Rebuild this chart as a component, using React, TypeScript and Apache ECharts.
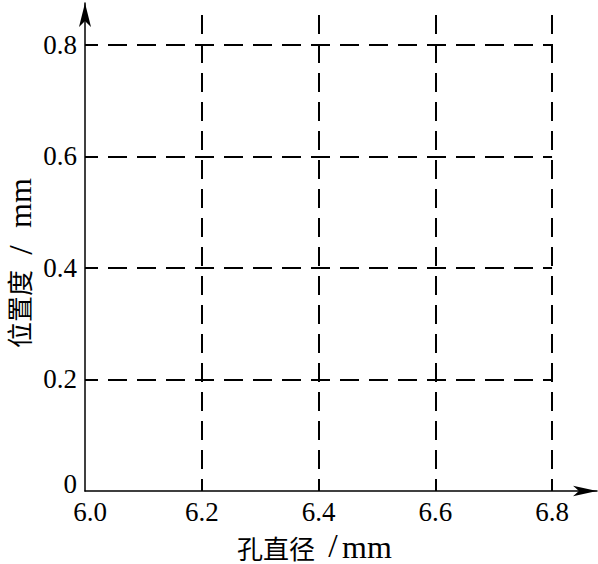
import React, { useEffect, useRef } from "react";
import * as echarts from "echarts";

const xTickValues = [6.0, 6.2, 6.4, 6.6, 6.8];
const yTickValues = [0, 0.2, 0.4, 0.6, 0.8];
const xGridValues = [6.2, 6.4, 6.6, 6.8];
const yGridValues = [0.2, 0.4, 0.6, 0.8];
const xTitleCn = "孔直径";
const yTitleCn = "位置度";
const slashText = "/";
const unitText = "mm";

const X_MIN = 6.0;
const X_LAST = 6.8;
const X_MAX = 6.877;
const Y_MIN = 0;
const Y_MAX = 0.8753;
const V_TOP = 0.8538;

const FONT = "'Liberation Serif', 'Times New Roman', 'Noto Sans CJK SC', serif";
const CJK = "'Noto Sans CJK SC', 'Liberation Serif', serif";

export default function App() {
  const ref = useRef<HTMLDivElement>(null);
  useEffect(() => {
    document.body.style.margin = "0";
    if (!ref.current) return;
    const chart = echarts.init(ref.current, undefined, { renderer: "svg" });
    const dash = { color: "#000", width: 2, type: [19, 10] as number[] };
    const markData: any[] = [];
    xGridValues.forEach((x) => {
      markData.push([
        { coord: [x, V_TOP], lineStyle: { ...dash } },
        { coord: [x, Y_MIN] },
      ]);
    });
    yGridValues.forEach((y) => {
      markData.push([
        { coord: [X_MIN, y], lineStyle: { ...dash, dashOffset: 6 } },
        { coord: [X_LAST, y] },
      ]);
    });
    const txt = (
      text: string,
      x: number,
      y: number,
      font: string,
      align: string,
      rotation = 0
    ) => ({
      type: "text",
      x,
      y,
      rotation,
      silent: true,
      style: { text, font, fill: "#000", align, verticalAlign: "middle" },
    });
    chart.setOption({
      animation: false,
      backgroundColor: "#fff",
      textStyle: { fontFamily: FONT },
      grid: { left: 85, right: 1, top: 3, bottom: 73, containLabel: false },
      xAxis: {
        type: "value",
        min: X_MIN,
        max: X_MAX,
        interval: 0.2,
        splitLine: { show: false },
        axisTick: { show: false },
        axisLine: {
          show: true,
          lineStyle: { color: "#000", width: 1.5 },
          symbol: ["none", "arrow"],
          symbolSize: [8, 24],
        },
        axisLabel: {
          color: "#000",
          fontSize: 27,
          fontFamily: FONT,
          margin: 7,
          showMaxLabel: false,
          formatter: (v: number) => {
            if (!xTickValues.some((t) => Math.abs(t - v) < 1e-6)) return "";
            if (Math.abs(v - X_MIN) < 1e-6) return "{a|" + v.toFixed(1) + "}";
            return v.toFixed(1);
          },
          rich: {
            a: { fontSize: 27, fontFamily: FONT, color: "#000", padding: [0, 0, 0, 10] },
          },
        },
      },
      yAxis: {
        type: "value",
        min: Y_MIN,
        max: Y_MAX,
        interval: 0.2,
        splitLine: { show: false },
        axisTick: { show: false },
        axisLine: {
          show: true,
          lineStyle: { color: "#000", width: 1.5 },
          symbol: ["none", "arrow"],
          symbolSize: [9, 24],
        },
        axisLabel: {
          color: "#000",
          fontSize: 27,
          fontFamily: FONT,
          margin: 8,
          showMaxLabel: false,
          formatter: (v: number) => {
            if (!yTickValues.some((t) => Math.abs(t - v) < 1e-6)) return "";
            if (v === 0) return "{z|0}";
            return v.toFixed(1);
          },
          rich: {
            z: { fontSize: 27, fontFamily: FONT, color: "#000", padding: [0, 0, 14, 0] },
          },
        },
      },
      series: [
        {
          type: "line",
          data: [],
          silent: true,
          markLine: {
            silent: true,
            symbol: ["none", "none"],
            label: { show: false },
            lineStyle: dash,
            data: markData,
          },
        },
      ],
      graphic: [
        txt(xTitleCn, 237, 547, `26px ${CJK}`, "left"),
        txt(slashText, 333, 545, `34px ${FONT}`, "center"),
        txt(unitText, 342, 547, `32px ${FONT}`, "left"),
        txt(yTitleCn, 18, 348, `26px ${CJK}`, "left", Math.PI / 2),
        txt(slashText, 20, 250, `34px ${FONT}`, "center", Math.PI / 2),
        txt(unitText, 20, 228, `32px ${FONT}`, "left", Math.PI / 2),
      ],
    });
    return () => chart.dispose();
  }, []);
  return <div ref={ref} style={{ width: 598, height: 564 }} />;
}
